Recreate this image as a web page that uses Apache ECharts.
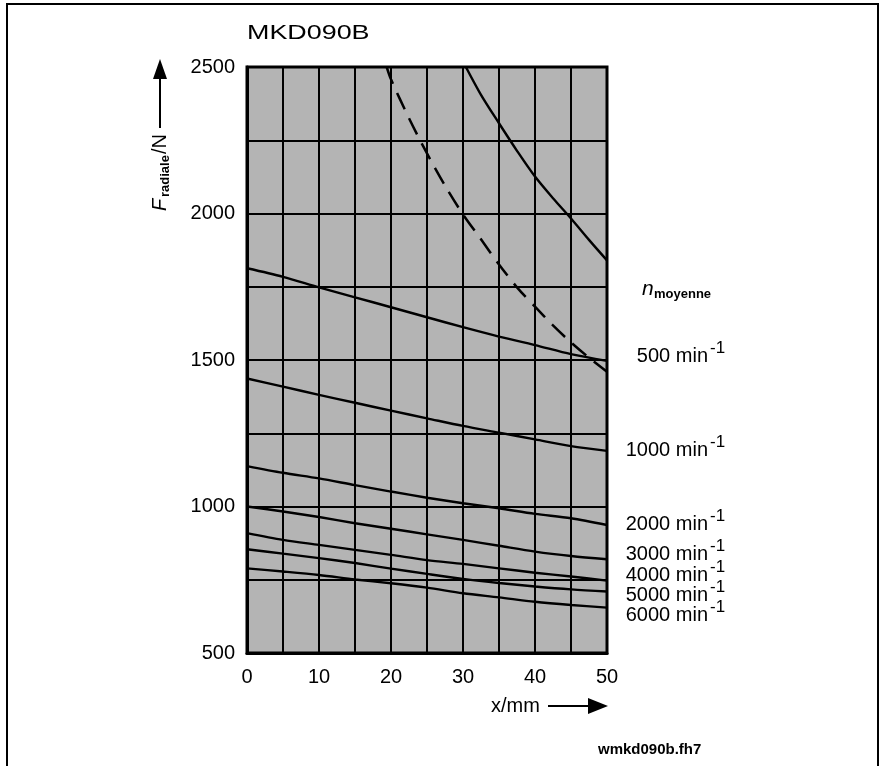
<!DOCTYPE html>
<html>
<head>
<meta charset="utf-8">
<script src="https://cdn.jsdelivr.net/npm/echarts@6/dist/echarts.min.js"></script>
<style>
html,body{margin:0;padding:0;background:#fff;}
#chart{width:882px;height:766px;}
</style>
</head>
<body>
<div id="chart"></div>
<script>
// ---- data ----
var xPositions = [0, 5, 10, 15, 20, 25, 30, 35, 40, 45, 50];
var speedLabels = ['500', '1000', '2000', '3000', '4000', '5000', '6000'];
var force500  = [1813, 1784, 1748, 1714, 1680, 1646, 1612, 1580, 1551, 1520, 1497];
var force1000 = [1437, 1409, 1381, 1354, 1327, 1301, 1275, 1252, 1229, 1206, 1190];
var force2000 = [1138, 1115, 1096, 1073, 1051, 1030, 1011, 994, 975, 960, 937];
var force3000 = [1000, 983, 964, 943, 924, 905, 886, 866, 846, 831, 820];
var force4000 = [909, 886, 869, 852, 835, 817, 804, 789, 774, 761, 747];
var force5000 = [854, 839, 824, 807, 788, 770, 753, 739, 727, 717, 710];
var force6000 = [789, 778, 766, 751, 738, 723, 704, 690, 675, 664, 655];
var limitSolidX = [30.4, 32.5, 35, 37.5, 40, 42.5, 45, 47.5, 50];
var limitSolidY = [2500, 2405, 2308, 2214, 2126, 2052, 1983, 1910, 1840];
var limitDashX = [19.4, 20, 22.5, 25, 27.5, 30, 32.5, 35, 37.5, 40, 42.5, 45, 47.5, 50];
var limitDashY = [2500, 2458, 2325, 2205, 2095, 1997, 1912, 1826, 1748, 1682, 1618, 1560, 1508, 1460];
var xTicks = [0, 10, 20, 30, 40, 50];
var yTicks = [500, 1000, 1500, 2000, 2500];
var title = 'MKD090B';
var fileName = 'wmkd090b.fh7';

function pairs(xs, ys){ return xs.map(function(x,i){ return [x, ys[i]]; }); }

var FONT = '"Liberation Sans", Arial, Helvetica, sans-serif';
var chart = echarts.init(document.getElementById('chart'));

var curveSets = [force500, force1000, force2000, force3000, force4000, force5000, force6000];
var series = curveSets.map(function(arr, i){
  return {
    name: speedLabels[i] + ' min-1',
    type: 'line', data: pairs(xPositions, arr), smooth: 0.3,
    symbol: 'none', lineStyle: {color: '#000', width: 2.4}, z: 5
  };
});
series.push({type:'line', data: pairs(limitSolidX, limitSolidY), smooth: 0.3, symbol:'none',
  lineStyle:{color:'#000', width:2.4}, z:5});
series.push({type:'line', data: pairs(limitDashX, limitDashY), smooth: 0.3, symbol:'none',
  lineStyle:{color:'#000', width:2.5, type:[18,10]}, z:5});

// right-side labels positions (layout only)
var labelY = [356, 450, 524, 554, 575, 595, 615];
var graphics = [];
graphics.push({type:'rect', shape:{x:7, y:4, width:871, height:820}, style:{fill:'none', stroke:'#000', lineWidth:2}, silent:true});
graphics.push({type:'text', x:247, y:33, style:{text:title, font:'21px ' + FONT, fill:'#000', textAlign:'left', textVerticalAlign:'middle'}, scaleX:1.28});
labelY.forEach(function(y, i){
  graphics.push({type:'text', x:708, y:y, style:{text:speedLabels[i] + ' min', font:'20px ' + FONT, fill:'#000', textAlign:'right', textVerticalAlign:'middle'}});
  graphics.push({type:'text', x:710, y:y-8, style:{text:'-1', font:'17px ' + FONT, fill:'#000', textAlign:'left', textVerticalAlign:'middle'}});
});
// n_moyenne
graphics.push({type:'text', x:642, y:289, style:{text:'n', font:'italic 21px ' + FONT, fill:'#000', textAlign:'left', textVerticalAlign:'middle'}});
graphics.push({type:'text', x:654, y:294, style:{text:'moyenne', font:'bold 13px ' + FONT, fill:'#000', textAlign:'left', textVerticalAlign:'middle'}});
// y axis name (rotated)
graphics.push({type:'group', x:160, y:211, rotation:Math.PI/2, children:[
  {type:'text', x:0, y:0, style:{text:'F', font:'italic 20px ' + FONT, fill:'#000', textAlign:'left', textVerticalAlign:'middle'}},
  {type:'text', x:14, y:5, style:{text:'radiale', font:'bold 13px ' + FONT, fill:'#000', textAlign:'left', textVerticalAlign:'middle'}},
  {type:'text', x:57, y:0, style:{text:'/N', font:'20px ' + FONT, fill:'#000', textAlign:'left', textVerticalAlign:'middle'}}
]});
// y arrow
graphics.push({type:'line', shape:{x1:160, y1:128, x2:160, y2:76}, style:{stroke:'#000', lineWidth:2}});
graphics.push({type:'polygon', shape:{points:[[153,79],[167,79],[160,59]]}, style:{fill:'#000'}});
// x axis name and arrow
graphics.push({type:'text', x:491, y:706, style:{text:'x/mm', font:'20px ' + FONT, fill:'#000', textAlign:'left', textVerticalAlign:'middle'}});
graphics.push({type:'line', shape:{x1:548, y1:706, x2:590, y2:706}, style:{stroke:'#000', lineWidth:2}});
graphics.push({type:'polygon', shape:{points:[[588,698],[588,714],[608,706]]}, style:{fill:'#000'}});
// file name
graphics.push({type:'text', x:598, y:750, style:{text:fileName, font:'bold 15px ' + FONT, fill:'#000', textAlign:'left', textVerticalAlign:'middle'}});

var option = {
  animation: false,
  backgroundColor: '#fff',
  grid: {left:247, top:67, width:360, height:586, show:true, backgroundColor:'#b4b4b4', borderColor:'#000', borderWidth:3, containLabel:false},
  xAxis: {
    type:'value', min:0, max:50, interval:5,
    axisLine:{show:true, lineStyle:{color:'#000', width:3}},
    axisTick:{show:false},
    axisLabel:{color:'#000', fontSize:20, fontFamily:FONT, margin:14,
      formatter:function(v){ return xTicks.indexOf(v) >= 0 ? String(v) : ''; }},
    splitLine:{show:true, lineStyle:{color:'#000', width:2}}
  },
  yAxis: {
    type:'value', min:500, max:2500, interval:250,
    axisLine:{show:true, lineStyle:{color:'#000', width:3}},
    axisTick:{show:false},
    axisLabel:{color:'#000', fontSize:20, fontFamily:FONT, margin:12,
      formatter:function(v){ return yTicks.indexOf(v) >= 0 ? String(v) : ''; }},
    splitLine:{show:true, lineStyle:{color:'#000', width:2}}
  },
  series: series,
  graphic: graphics
};
chart.setOption(option);
</script>
</body>
</html>
